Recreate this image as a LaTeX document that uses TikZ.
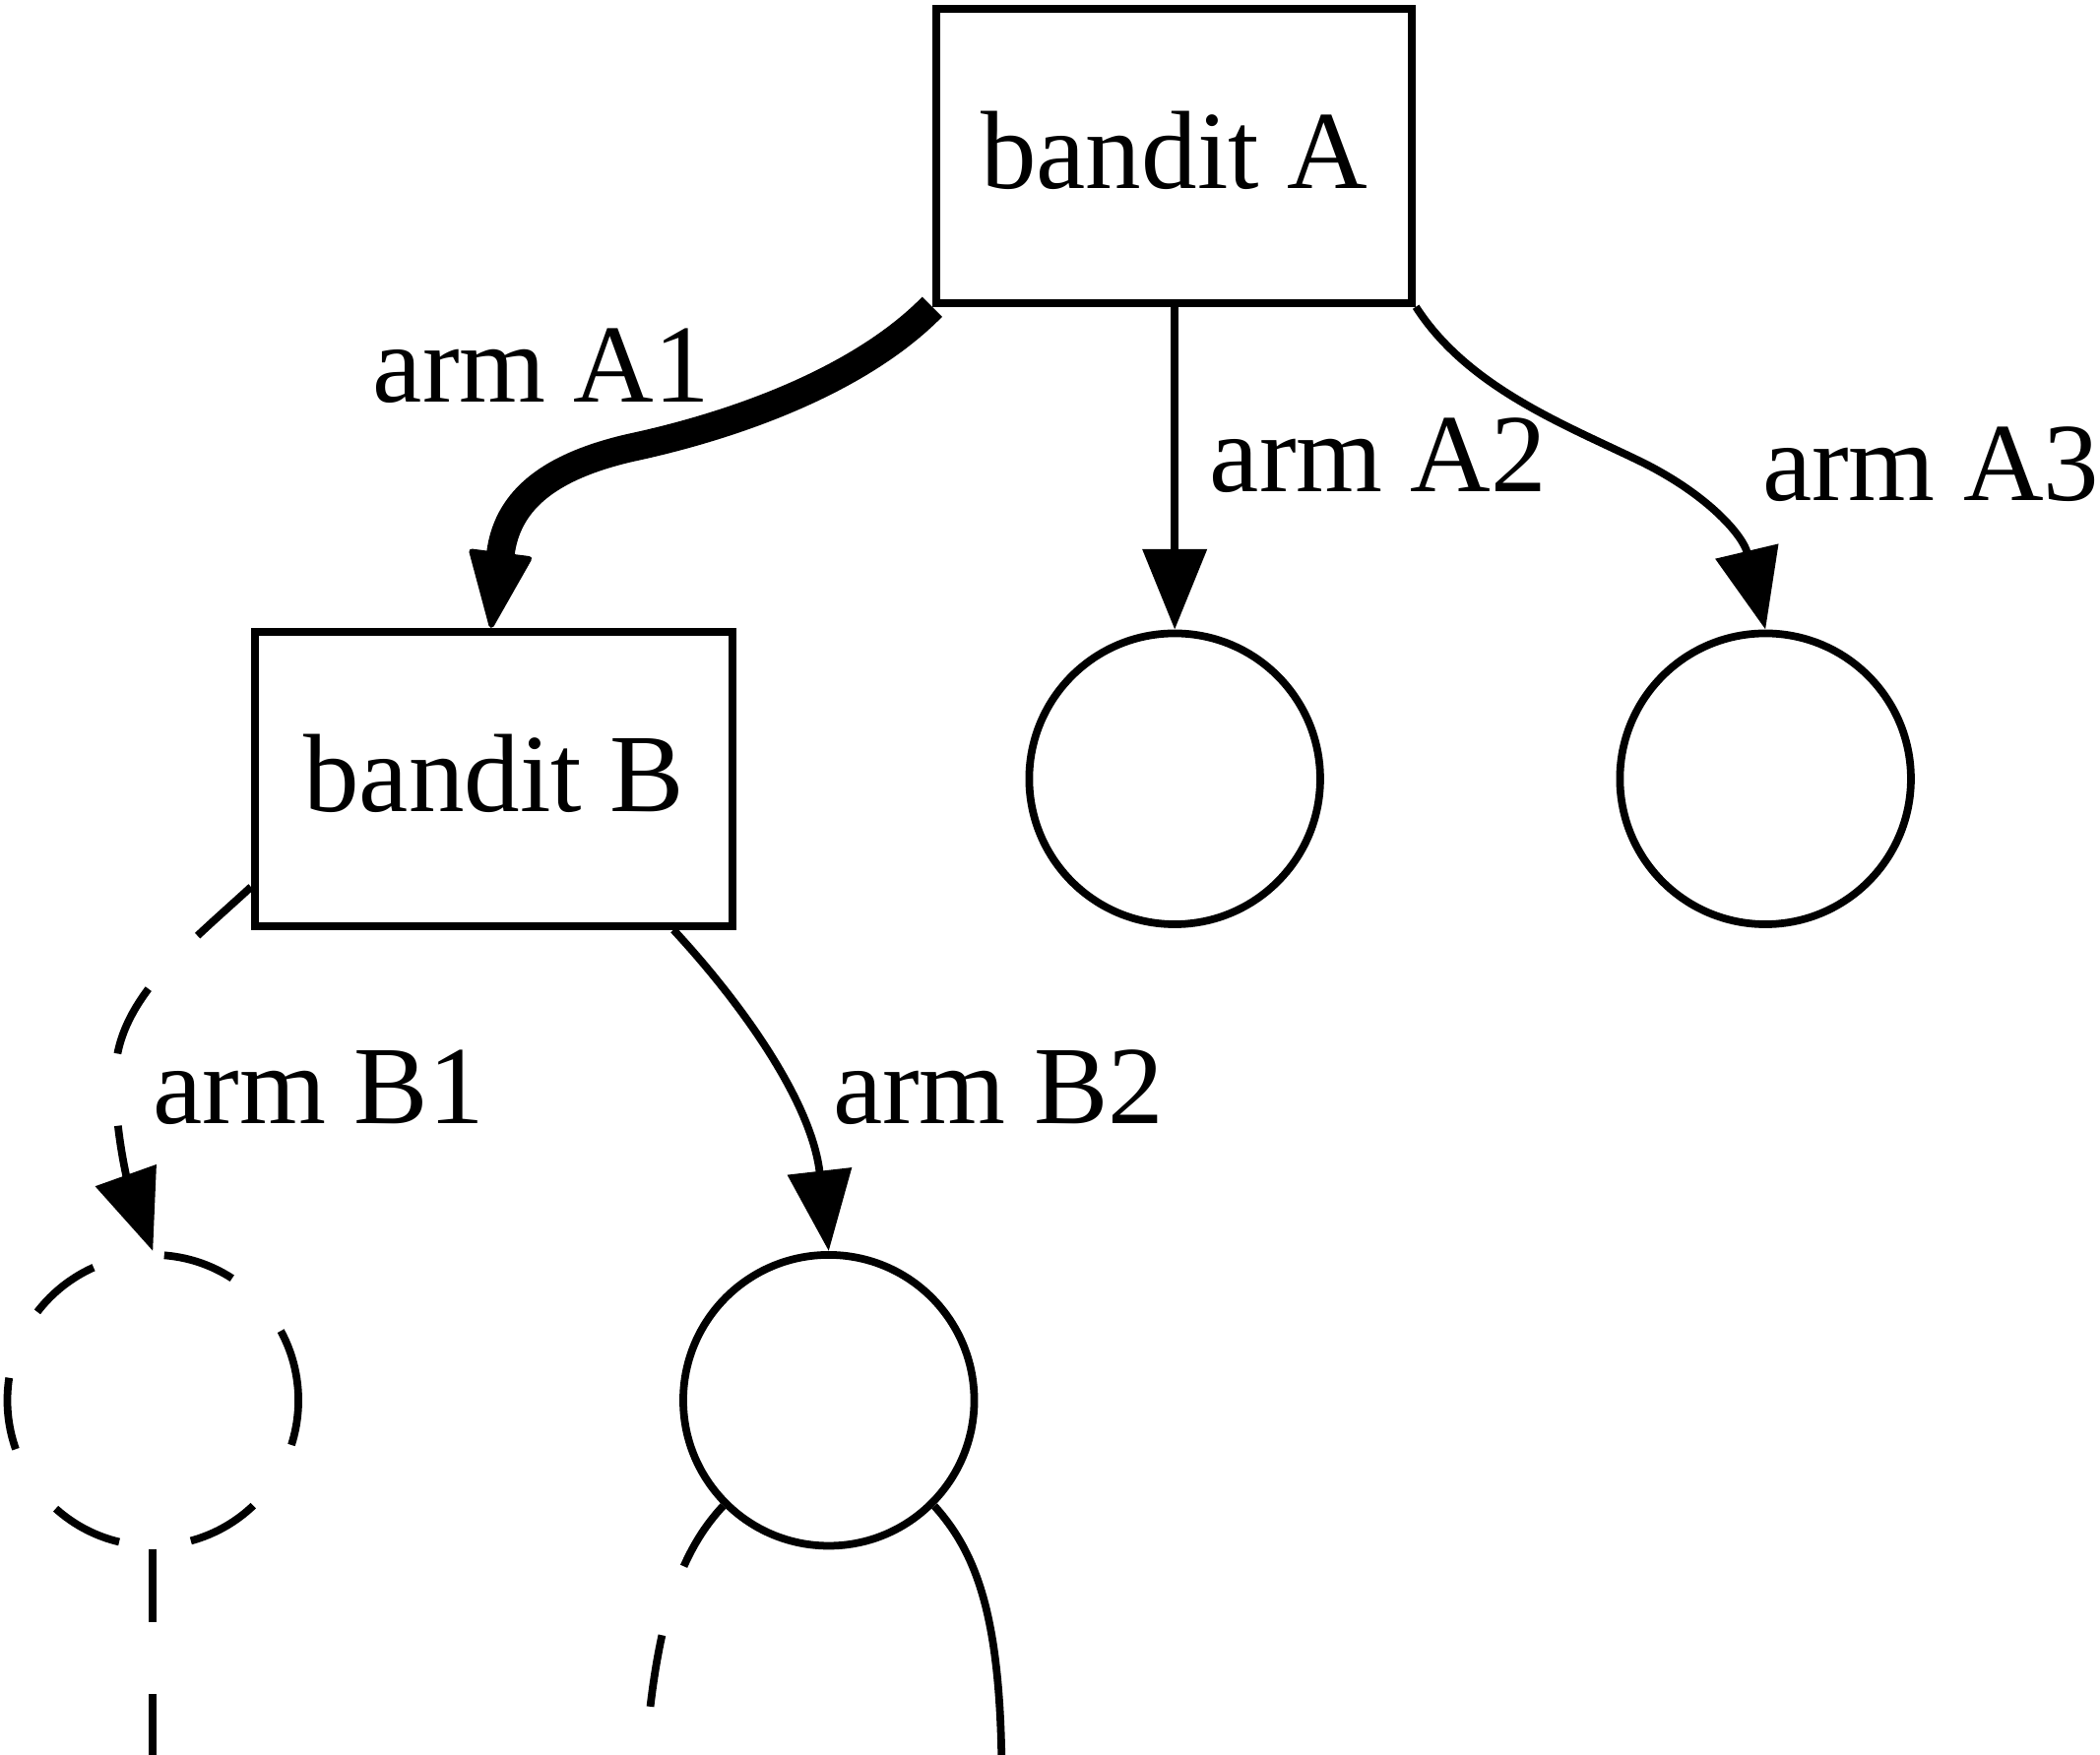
\documentclass[tikz,border=0pt]{standalone}
\usepackage{fontspec}
\setmainfont{Liberation Serif}
\usetikzlibrary{arrows.meta,calc}
\begin{document}
\begin{tikzpicture}[x=1pt,y=-1pt,
  box/.style={draw,line width=5.7pt,rectangle,minimum width=355pt,minimum height=219.6pt,inner sep=0pt,text height=49pt,text depth=0pt,font=\fontsize{83}{100}\selectfont},
  leaf/.style={draw,line width=5.7pt,circle,minimum size=217pt,inner sep=0pt},
  lbl/.style={anchor=base west,inner sep=0pt,font=\fontsize{83}{100}\selectfont},
  edge/.style={line width=5.7pt,-{Triangle[length=60pt,width=47pt]}},
  plain/.style={line width=5.7pt},
  dsh/.style={dash pattern=on 54pt off 54pt},
  heavy/.style={line width=21pt,-{Triangle[length=60pt,width=48pt,line width=4pt,round]}}
]
\useasboundingbox (0,0) rectangle (1566,1309);
\clip (0,0) rectangle (1566,1309);

\node[box] (a) at (875.5,116.2) {bandit A};
\node[box,minimum width=356.3pt] (b) at (368.2,580.9) {bandit B};
\node[leaf] (c2) at (876,580.9) {};
\node[leaf] (c3) at (1316.5,580.9) {};
\node[leaf,dsh] (c1) at (114,1044.5) {};
\node[leaf] (c4) at (618,1044.5) {};

\draw[heavy] (a.south west) .. controls (640,285) and (545,318) .. (470,334) .. controls (405,349) and (378,376) .. ($(b.north)+(-2,0)$);
\draw[edge] (a.south -| c2) -- (c2.north);
\draw[edge] (a.south east) .. controls (1095,290) and (1170,318) .. (1225,345) .. controls (1275,370) and (1300,400) .. (c3.north);
\draw[edge,dsh] ($(b.south west)+(0,-32)$) .. controls (140,705) and (88,745) .. (86,800) .. controls (85,840) and (95,880) .. (c1.north);
\draw[edge] ($(b.south)+(134,0)$) .. controls (550,745) and (605,820) .. (c4.north);

\coordinate (e1) at (114,1400);
\coordinate (e2) at (480,1330);
\coordinate (e3) at (747,1320);
\draw[plain,dsh] (c1.south) -- (e1);
\draw[plain,dsh] (c4.-135) .. controls (505,1160) and (487,1215) .. (e2);
\draw[plain] (c4.-45) .. controls (730,1160) and (746,1210) .. (e3);

\node[lbl] (la1) at (278,300) {arm A1};
\node[lbl] (la2) at (902,367) {arm A2};
\node[lbl] (la3) at (1314,373) {arm A3};
\node[lbl] (lb1) at (114,838) {arm B1};
\node[lbl] (lb2) at (621,838) {arm B2};
\end{tikzpicture}
\end{document}
